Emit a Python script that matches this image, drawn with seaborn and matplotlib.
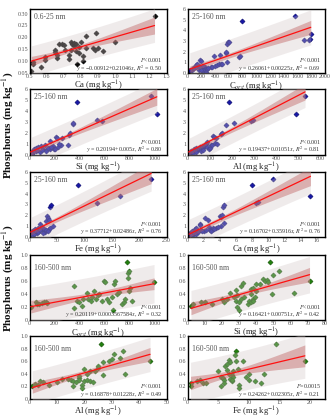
import numpy as np
import pandas as pd
import matplotlib
matplotlib.use("Agg")
import matplotlib.pyplot as plt
import seaborn as sns

# ---------------- data ----------------
# 0.6-25 nm fraction
ca_a = [0.51, 0.52, 0.52, 0.57, 0.59, 0.59, 0.65, 0.65, 0.66, 0.66, 0.67, 0.69, 0.70, 0.71,
        0.73, 0.73, 0.74, 0.74, 0.75, 0.76, 0.76, 0.77, 0.77, 0.78, 0.79, 0.79, 0.80, 0.81,
        0.81, 0.83, 0.83, 0.87, 0.88, 0.89, 0.90, 0.93, 1.00, 1.23]
p_ca_a = [0.055, 0.085, 0.095, 0.075, 0.117, 0.105, 0.136, 0.147, 0.126, 0.112, 0.173, 0.172,
          0.168, 0.147, 0.123, 0.108, 0.147, 0.18, 0.17, 0.177, 0.163, 0.14, 0.17, 0.086, 0.133,
          0.158, 0.18, 0.12, 0.098, 0.205, 0.155, 0.155, 0.147, 0.218, 0.155, 0.14, 0.18, 0.29]

# 25-160 nm fraction
corg_b = [34, 63, 82, 110, 120, 145, 145, 170, 183, 193, 207, 227, 240, 255, 265, 337, 350,
          385, 400, 424, 458, 472, 482, 506, 554, 560, 578, 578, 593, 602, 747, 761, 795,
          1566, 1700, 1773, 1783, 1793, 40, 90, 130, 160, 200, 280, 300, 220]
p_corg_b = [0.17, 0.27, 0.45, 0.5, 0.7, 0.6, 0.8, 0.25, 1.2, 1.15, 0.37, 0.2, 0.37, 0.5, 0.1,
            0.5, 0.58, 1.55, 0.68, 0.72, 0.85, 1.65, 0.85, 0.85, 1.9, 1.95, 1.05, 2.7, 2.95,
            2.9, 1.5, 1.6, 4.9, 5.4, 3.1, 3.1, 3.2, 3.7, 0.3, 0.4, 0.55, 0.65, 0.3, 0.35, 0.45, 0.6]

si_b = [8, 16, 27, 35, 49, 54, 68, 81, 95, 108, 122, 135, 157, 162, 168, 184, 189, 195, 211,
        222, 230, 249, 257, 311, 319, 324, 346, 351, 378, 541, 581, 973, 1022,
        20, 40, 60, 100, 150, 175, 205, 240]
p_si_b = [0.06, 0.2, 0.37, 0.53, 0.6, 0.35, 0.7, 0.28, 0.8, 0.53, 0.85, 0.38, 0.6, 1.3, 0.53,
          0.7, 0.8, 0.53, 1.6, 1.5, 0.7, 0.85, 1.55, 0.9, 1.85, 1.95, 2.8, 2.9, 4.85, 3.15,
          3.1, 5.35, 3.75, 0.1, 0.3, 0.45, 0.4, 0.6, 0.75, 0.55, 0.95]

al_b = [5, 10, 15, 20, 25, 30, 35, 40, 45, 50, 55, 60, 65, 70, 75, 80, 85, 88, 90, 95, 100,
        105, 110, 115, 120, 125, 130, 135, 150, 155, 173, 188, 211, 287, 294, 487, 530,
        25, 40, 60, 70]
p_al_b = [0.1, 0.2, 0.3, 0.25, 0.35, 0.5, 0.3, 0.6, 0.4, 0.55, 0.7, 0.5, 0.75, 0.6, 0.8, 0.9,
          1.0, 1.15, 0.7, 0.5, 0.6, 0.85, 0.9, 1.7, 1.6, 1.05, 1.5, 0.95, 1.9, 2.0, 2.75,
          4.85, 2.95, 3.1, 3.2, 3.75, 5.35, 0.15, 0.2, 0.3, 0.4]

fe_b = [2, 3, 5, 6, 8, 10, 12, 14, 15, 18, 20, 22, 25, 28, 30, 32, 33, 35, 36, 38, 38, 40,
        42, 89, 123, 165, 222, 4, 7, 9, 11, 16, 19, 24, 27, 31, 34]
p_fe_b = [0.1, 0.3, 0.5, 0.2, 0.6, 0.7, 0.4, 0.3, 0.8, 0.5, 1.2, 0.9, 0.6, 0.4, 1.5, 1.9, 1.7,
          0.7, 1.6, 0.8, 2.8, 2.95, 1.0, 4.85, 3.15, 3.75, 5.35, 0.15, 0.35, 0.25, 0.55, 0.45,
          0.65, 0.35, 0.7, 0.6, 0.5]

ca_b = [0.2, 0.3, 0.5, 0.7, 0.9, 1.0, 1.2, 1.5, 1.6, 1.7, 2.0, 2.2, 2.5, 2.6, 2.8, 3.0, 3.2,
        3.5, 4.0, 4.1, 4.2, 4.3, 4.4, 4.5, 4.5, 8.0, 8.5, 8.7, 10.6, 15.2,
        0.4, 0.8, 1.1, 1.3, 1.8, 2.3, 2.9, 3.3, 3.8]
p_ca_b = [0.1, 0.3, 0.5, 0.2, 0.7, 0.8, 0.4, 1.2, 1.1, 0.6, 0.5, 1.7, 1.6, 0.9, 0.6, 0.6, 0.8,
          0.8, 1.9, 1.0, 1.8, 2.0, 2.8, 2.95, 1.3, 4.85, 3.15, 3.2, 5.35, 3.75,
          0.15, 0.35, 0.25, 0.45, 0.55, 0.65, 0.5, 0.7, 0.9]

# 160-500 nm fraction
corg_c = [10, 50, 60, 80, 100, 120, 130, 140, 360, 360, 380, 400, 420, 430, 460, 470, 490,
          500, 520, 530, 550, 560, 580, 600, 610, 620, 640, 660, 670, 680, 690, 700, 720,
          740, 760, 770, 780, 790, 790, 800, 800, 810, 820, 1000]
p_corg_c = [0.20, 0.27, 0.25, 0.24, 0.26, 0.27, 0.28, 0.26, 0.52, 0.19, 0.30, 0.28, 0.21,
            0.32, 0.42, 0.32, 0.30, 0.35, 0.45, 0.32, 0.38, 0.40, 0.30, 0.60, 0.58, 0.33,
            0.28, 0.35, 0.15, 0.55, 0.60, 0.40, 0.43, 0.25, 0.28, 0.32, 0.90, 0.72, 0.65,
            0.75, 0.45, 0.50, 0.30, 0.58]

si_c = [2, 3, 8, 10, 14, 20, 21, 23, 25, 27, 28, 28, 29, 29, 30, 30, 31, 31, 32, 33, 35, 36,
        37, 37, 37, 38, 38, 38, 39, 40, 40, 42, 44, 45, 46, 47, 48, 49, 50, 53, 62, 71]
p_si_c = [0.22, 0.25, 0.28, 0.28, 0.25, 0.32, 0.28, 0.33, 0.42, 0.35, 0.46, 0.30, 0.38, 0.20,
          0.16, 0.27, 0.33, 0.53, 0.57, 0.35, 0.25, 0.30, 0.28, 0.40, 0.48, 0.50, 0.33, 0.30,
          0.35, 0.45, 0.55, 0.55, 0.63, 0.60, 0.62, 0.58, 0.90, 0.40, 0.70, 0.76, 0.41, 0.60]

al_c = [1, 2, 3, 4, 5, 7, 10, 12, 14, 15, 16, 16, 17, 18, 18, 18, 19, 19, 20, 20, 21, 21, 22,
        22, 23, 24, 25, 25, 26, 27, 27, 29, 30, 31, 33, 34, 35, 44]
p_al_c = [0.20, 0.24, 0.22, 0.28, 0.27, 0.23, 0.27, 0.32, 0.32, 0.30, 0.20, 0.28, 0.27, 0.34,
          0.36, 0.30, 0.22, 0.18, 0.47, 0.28, 0.30, 0.40, 0.44, 0.28, 0.27, 0.45, 0.50, 0.52,
          0.88, 0.58, 0.38, 0.60, 0.63, 0.72, 0.65, 0.76, 0.40, 0.60]

fe_c = [0.5, 0.5, 1.5, 2.0, 2.5, 3.0, 5.0, 5.5, 5.5, 5.8, 6.0, 6.0, 6.2, 6.5, 6.5, 6.8, 7.0,
        7.0, 7.2, 7.3, 7.5, 7.8, 8.0, 8.0, 8.2, 8.5, 8.5, 9.0, 9.5, 10.0, 10.0, 11.0, 12.0,
        12.5, 14.5, 19.2, 7.5, 6.8, 7.2]
p_fe_c = [0.20, 0.25, 0.28, 0.30, 0.26, 0.25, 0.45, 0.35, 0.20, 0.33, 0.30, 0.25, 0.52, 0.46,
          0.55, 0.62, 0.58, 0.32, 0.38, 0.28, 0.35, 0.70, 0.76, 0.60, 0.48, 0.22, 0.18, 0.60,
          0.35, 0.30, 0.40, 0.28, 0.25, 0.40, 0.88, 0.60, 0.45, 0.40, 0.30]

# fitted coefficients (intercept, slope) and statistics
intercepts = [-0.00912, 0.26061, 0.20194, 0.19437, 0.37712, 0.16702,
              0.20119, 0.16421, 0.16878, 0.24262]
slopes = [0.21046, 0.00225, 0.005, 0.01051, 0.02486, 0.35916,
          0.0003567584, 0.00751, 0.01228, 0.02305]
slope_txt = ["0.21046", "0.00225", "0.005", "0.01051", "0.02486", "0.35916",
             "0.0003567584", "0.00751", "0.01228", "0.02305"]
int_txt = ["\u22120.00912", "0.26061", "0.20194", "0.19437", "0.37712", "0.16702",
           "0.20119", "0.16421", "0.16878", "0.24262"]
r2_txt = ["0.50", "0.69", "0.80", "0.81", "0.76", "0.76", "0.32", "0.42", "0.49", "0.21"]
p_txt = ["P<0.001"] * 9 + ["P=0.0015"]
size_labels = ["0.6-25 nm"] + ["25-160 nm"] * 5 + ["160-500 nm"] * 4
x_labels = ["Ca (mg kg$^{-1}$)", "C$_{org}$ (mg kg$^{-1}$)", "Si (mg kg$^{-1}$)",
            "Al (mg kg$^{-1}$)", "Fe (mg kg$^{-1}$)", "Ca (mg kg$^{-1}$)",
            "C$_{org}$ (mg kg$^{-1}$)", "Si (mg kg$^{-1}$)", "Al (mg kg$^{-1}$)",
            "Fe (mg kg$^{-1}$)"]

xs_all = [ca_a, corg_b, si_b, al_b, fe_b, ca_b, corg_c, si_c, al_c, fe_c]
ys_all = [p_ca_a, p_corg_b, p_si_b, p_al_b, p_fe_b, p_ca_b, p_corg_c, p_si_c, p_al_c, p_fe_c]

# ---------------- style ----------------
sns.set_theme(style="white")
plt.rcParams["font.family"] = ["Liberation Serif", "DejaVu Serif"]
plt.rcParams["mathtext.fontset"] = "stix"

x_limits = [(0.5, 1.3), (0, 2000), (0, 1100), (0, 620), (0, 250), (0, 17),
            (0, 1100), (0, 80), (0, 50), (0, 22.5)]
x_ticks = [np.arange(0.5, 1.31, 0.1), np.arange(0, 2001, 200), np.arange(0, 1001, 200),
           np.arange(0, 601, 100), np.arange(0, 251, 50), np.arange(0, 17, 2),
           np.arange(0, 1001, 200), np.arange(0, 81, 10), np.arange(0, 51, 10),
           np.arange(0, 21, 5)]
x_ticklabels = [[f"{v:.1f}" for v in x_ticks[0]]] + \
               [[f"{int(v)}" for v in t] for t in x_ticks[1:]]

fill_cols = ["#0a0a0a"] + ["#1616a6"] * 5 + ["#1f800c"] * 4
edge_cols = ["#000000"] + ["#0c0c70"] * 5 + ["#165508"] * 4
text_col = "#555555"

W, H = 334, 419
fig = plt.figure(figsize=(W / 100, H / 100), dpi=100)

rows_px = [(9, 73), (89, 155), (172, 237), (255, 320), (336, 399)]
cols_px = [(29.5, 166.5), (187.5, 325)]

for i in range(10):
    r, c = divmod(i, 2)
    top, bot = rows_px[r]
    lft, rgt = cols_px[c]
    ax = fig.add_axes([lft / W, 1 - bot / H, (rgt - lft) / W, (bot - top) / H])

    x = np.asarray(xs_all[i], float)
    y = np.asarray(ys_all[i], float)
    a, b = intercepts[i], slopes[i]
    df = pd.DataFrame({"x": x, "y": y})

    sns.scatterplot(data=df, x="x", y="y", ax=ax, marker="D", s=6.5,
                    color=fill_cols[i], edgecolor=edge_cols[i], linewidth=0.45,
                    legend=False, zorder=2)

    # confidence and prediction bands around the fitted line
    n = len(x)
    resid = y - (a + b * x)
    s = np.sqrt(np.sum(resid ** 2) / (n - 2))
    xbar = x.mean()
    sxx = np.sum((x - xbar) ** 2)
    grid = np.linspace(x.min(), x.max(), 120)
    fit = a + b * grid
    se_fit = s * np.sqrt(1 / n + (grid - xbar) ** 2 / sxx)
    tval = 2.02
    pi = tval * np.sqrt(s ** 2 + se_fit ** 2)
    ci = tval * se_fit
    ax.fill_between(grid, fit - pi, fit + pi, color=(0.82, 0.77, 0.77), alpha=0.33,
                    linewidth=0, zorder=3)
    ax.fill_between(grid, fit - ci, fit + ci, color=(0.74, 0.36, 0.36), alpha=0.42,
                    linewidth=0, zorder=4)
    sns.lineplot(x=grid, y=fit, ax=ax, color="#ff1010", linewidth=0.9, zorder=5)

    ax.set_xlim(*x_limits[i])
    ax.set_xticks(x_ticks[i])
    ax.set_xticklabels(x_ticklabels[i])
    if i == 0:
        ax.set_ylim(0.048, 0.32)
        yt = np.arange(0.05, 0.31, 0.05)
        ax.set_yticks(yt)
        ax.set_yticklabels([f"{v:.2f}" for v in yt])
    elif i < 6:
        ax.set_ylim(-0.03, 6.03)
        ax.set_yticks(range(0, 7))
        ax.set_yticklabels([str(v) for v in range(0, 7)])
    else:
        ax.set_ylim(0, 1.0)
        yt = [0, 0.2, 0.4, 0.6, 0.8, 1.0]
        ax.set_yticks(yt)
        ax.set_yticklabels(["0", "0.2", "0.4", "0.6", "0.8", "1.0"])

    ax.tick_params(axis="both", labelsize=4.3, pad=1, length=1.2, width=0.4,
                   direction="in", colors="#111111", labelcolor=text_col)
    for sp in ax.spines.values():
        sp.set_linewidth(1.0)
        sp.set_color("black")
    ax.set_xlabel(x_labels[i], fontsize=6.2, labelpad=0, color="#222222")
    ax.set_ylabel("")

    ly = 0.88 if r < 3 else 0.80
    ax.text(0.035, ly, size_labels[i], transform=ax.transAxes, fontsize=5.5,
            color=text_col, ha="left", va="center")
    ax.text(0.97, 0.2, f"$P${p_txt[i][1:]}", transform=ax.transAxes, fontsize=4.3,
            color="#333333", ha="right", va="center")
    ax.text(0.97, 0.075,
            f"$y$ = {int_txt[i]}+{slope_txt[i]}$x$, $R^2$ = {r2_txt[i]}",
            transform=ax.transAxes, fontsize=4.3, color="#333333", ha="right", va="center")

for yc in (125, 278):
    fig.text(8 / W, 1 - yc / H, "Phosphorus (mg kg$^{-1}$)", rotation=90,
             fontsize=8, fontweight="bold", ha="center", va="center", color="#111111")

fig.savefig("out.png", dpi=100)
